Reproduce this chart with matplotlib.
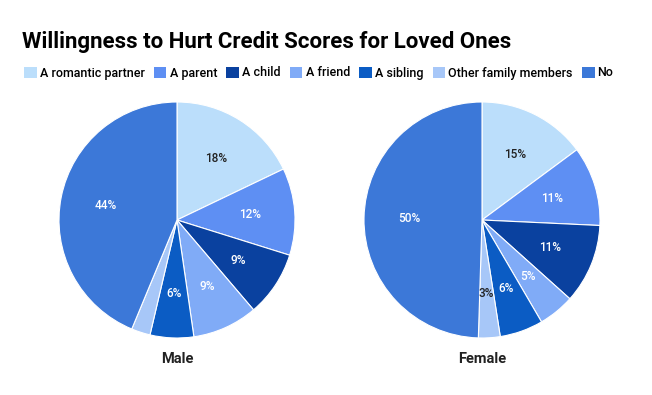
import matplotlib

matplotlib.use("Agg")

import matplotlib.pyplot as plt  # noqa: E402
from matplotlib.patches import Patch  # noqa: E402

plt.rcParams["font.family"] = ["Roboto", "DejaVu Sans"]

CATEGORIES = ["A romantic partner", "A parent", "A child", "A friend",
              "A sibling", "Other family members", "No"]
MALE = [18, 12, 9, 9, 6, 2.6, 44]
FEMALE = [15, 11, 11, 5, 6, 3, 50]
GROUPS = ["Male", "Female"]
COLORS = ["#bbdefb", "#5e8ff3", "#0a419f", "#80abf7", "#0b5cc4", "#a7c7f8", "#3c78d8"]
DARK_TEXT = {0, 5}


def draw_pie(ax, values, name):
    wedges, texts, autotexts = ax.pie(
        values, colors=COLORS, startangle=90, counterclock=False,
        radius=1.0, autopct=lambda p: f"{p:.0f}%" if p >= 2.8 else "",
        pctdistance=0.62, wedgeprops=dict(edgecolor="white", linewidth=0.8),
        textprops=dict(fontsize=8.5, fontweight="medium"))
    for i, t in enumerate(autotexts):
        t.set_color("#222222" if i in DARK_TEXT else "white")
    ax.set_aspect("equal")
    ax.text(0, -1.18, name, ha="center", va="center", fontsize=10.5,
            fontweight="bold", color="#222222")


def main():
    fig = plt.figure(figsize=(6.52, 3.95), dpi=100)
    fig.patch.set_facecolor("white")
    for cx, vals, name in zip((177, 482), (MALE, FEMALE), GROUPS):
        w = 236 / 652
        h = 236 / 395
        ax = fig.add_axes([(cx - 118) / 652, (395 - 338) / 395, w, h])
        draw_pie(ax, vals, name)
        ax.set_xlim(-1, 1)
        ax.set_ylim(-1, 1)
    fig.text(22 / 652, 1 - 42 / 395, "Willingness to Hurt Credit Scores for Loved Ones",
             fontsize=16, fontweight="bold", va="center", ha="left", color="black")
    handles = [Patch(facecolor=c, edgecolor="none") for c in COLORS]
    fig.legend(handles, CATEGORIES, loc="center left",
               bbox_to_anchor=(19 / 652, 1 - 73 / 395), ncol=7, frameon=False,
               prop=dict(size=9, weight="medium"), handlelength=1.0,
               handleheight=1.0, handletextpad=0.25, columnspacing=0.75,
               borderaxespad=0)
    fig.savefig("out.png", dpi=100)
    plt.close(fig)


if __name__ == "__main__":
    main()
